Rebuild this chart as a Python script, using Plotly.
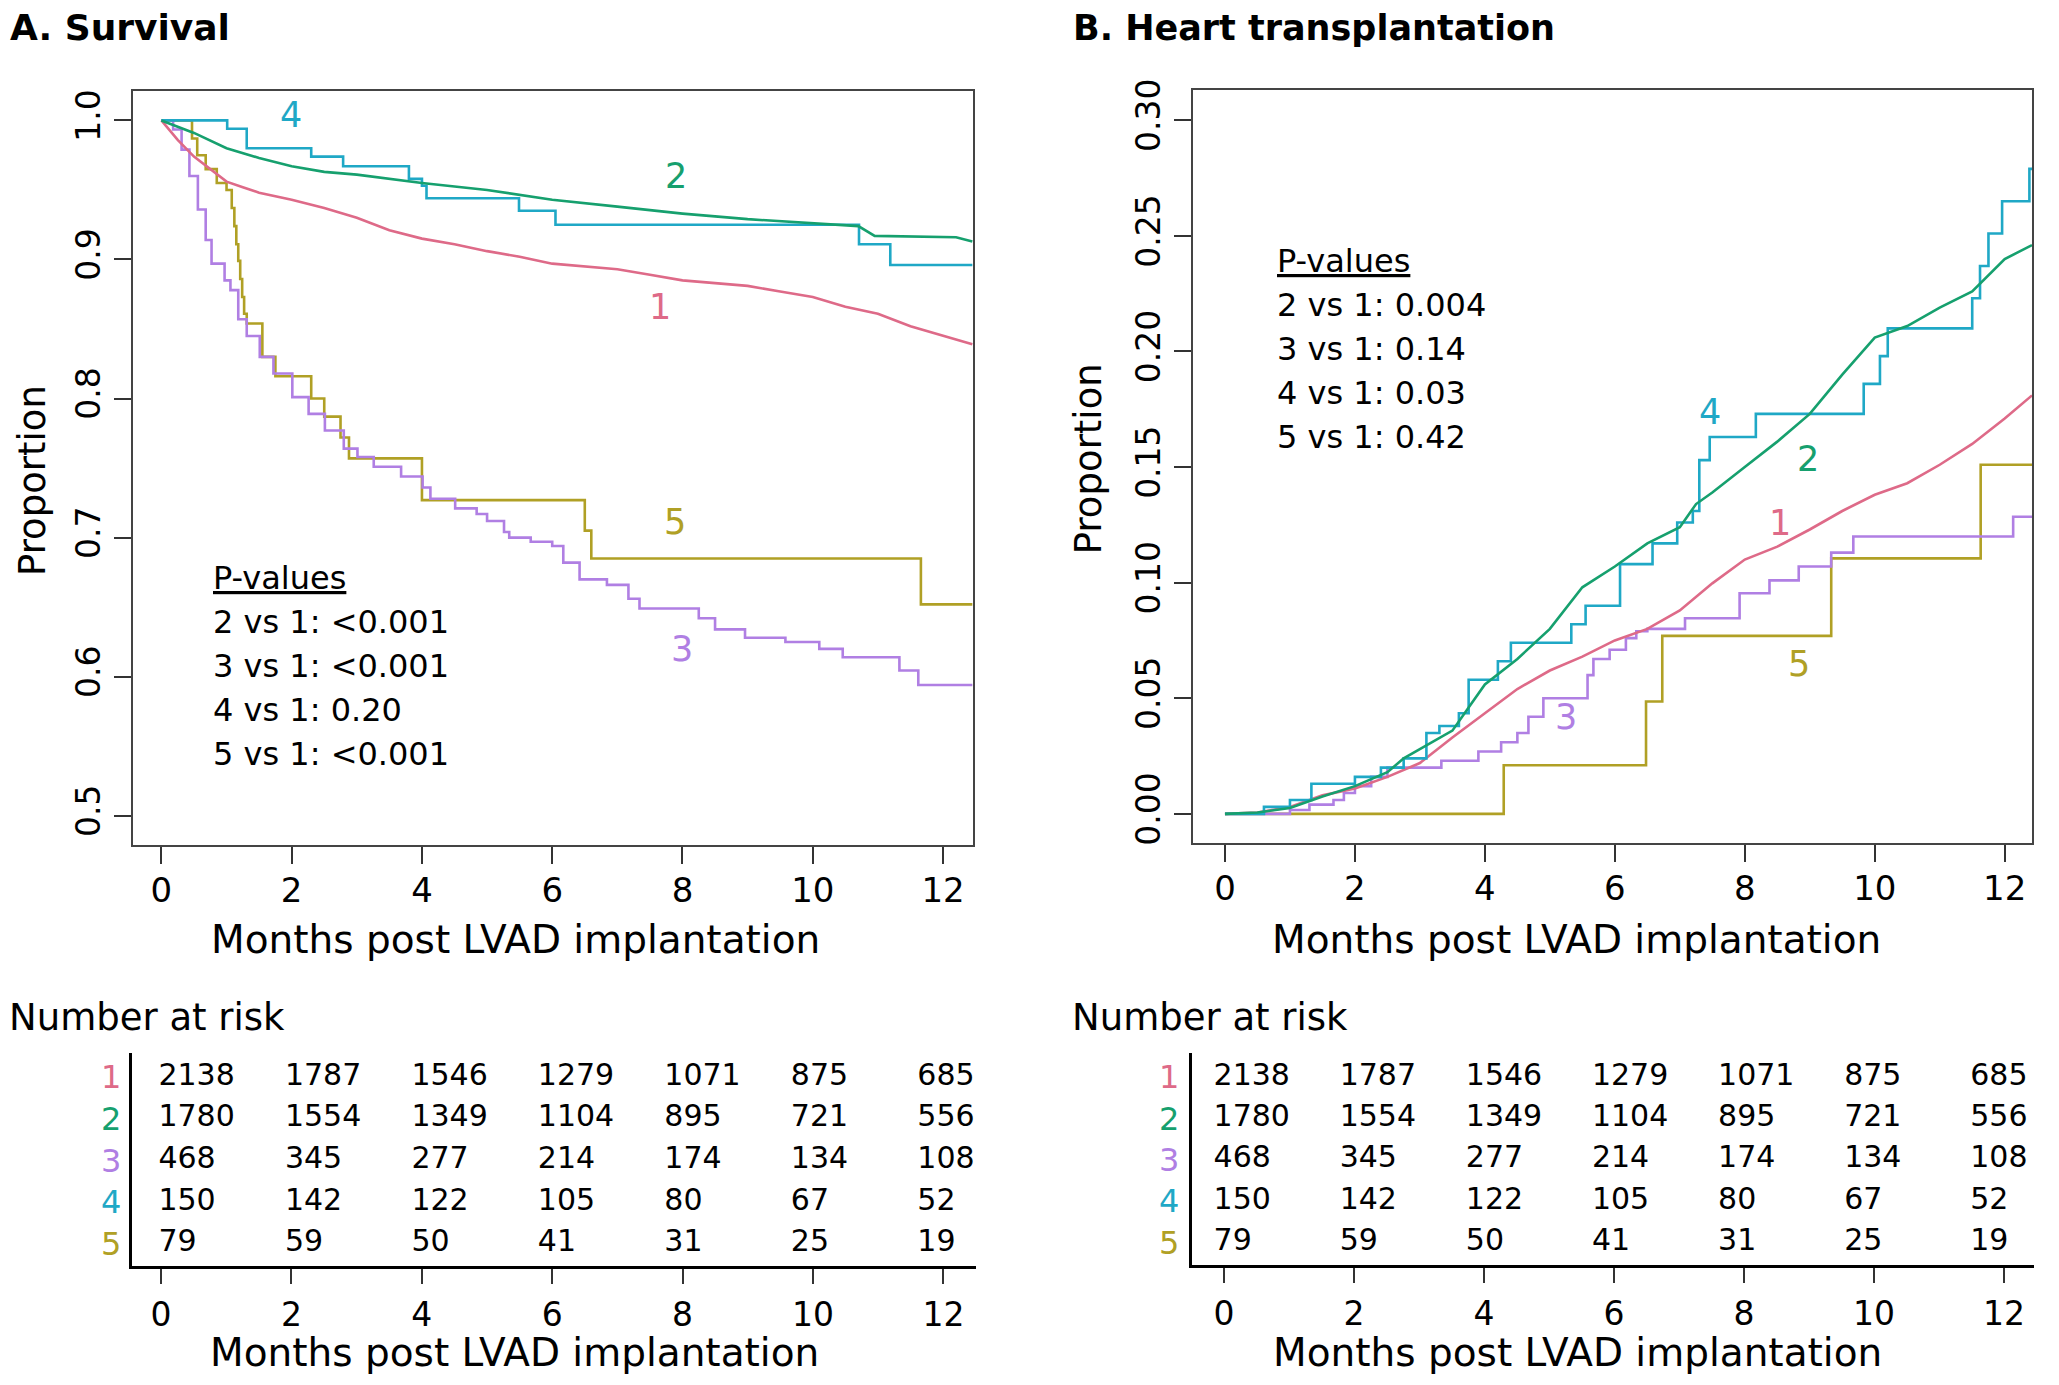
import plotly.graph_objects as go

W, H = 2059, 1385
FONT = "DejaVu Sans"
PAGE_MARGIN = 8  # default <body> margin of the written html page

# ---------------- data ----------------
group_labels = ["1", "2", "3", "4", "5"]
group_colors = ["#DE6A88", "#16A06E", "#B07FE3", "#1FA8C6", "#B0A025"]

# Panel A: survival (proportion alive)
survA1_t = [0, 0.25, 0.5, 0.75, 1, 1.25, 1.5, 2, 2.5, 3, 3.5, 4, 4.5, 5, 5.5, 6, 6.5, 7, 7.5, 8, 8.5, 9, 9.5, 10, 10.5, 11, 11.5, 12, 12.45]
survA1_p = [1, 0.986, 0.974, 0.965, 0.956, 0.952, 0.948, 0.943, 0.937, 0.930, 0.921, 0.915, 0.911, 0.906, 0.902, 0.897, 0.895, 0.893, 0.889, 0.885, 0.883, 0.881, 0.877, 0.873, 0.866, 0.861, 0.852, 0.845, 0.839]

survA2_t = [0, 0.5, 1, 1.5, 2, 2.5, 3, 3.5, 4, 5, 6, 7, 8, 9, 10, 10.7, 10.95, 12.2, 12.45]
survA2_p = [1, 0.991, 0.980, 0.973, 0.967, 0.963, 0.961, 0.958, 0.955, 0.950, 0.943, 0.938, 0.933, 0.929, 0.926, 0.924, 0.917, 0.916, 0.913]

survA3_t = [0, 0.18, 0.31, 0.43, 0.56, 0.68, 0.77, 0.97, 1.06, 1.18, 1.31, 1.51, 1.72, 2.01, 2.26, 2.51, 2.8, 3.01, 3.26, 3.68, 4.01, 4.13, 4.51, 4.84, 5.0, 5.26, 5.34, 5.67, 6.0, 6.17, 6.42, 6.84, 7.17, 7.34, 8.25, 8.5, 8.96, 9.58, 10.1, 10.46, 11.33, 11.62, 12.45]
survA3_p = [1, 0.9935, 0.979, 0.960, 0.936, 0.914, 0.897, 0.885, 0.878, 0.857, 0.845, 0.830, 0.818, 0.801, 0.789, 0.777, 0.764, 0.758, 0.751, 0.744, 0.736, 0.728, 0.721, 0.717, 0.712, 0.704, 0.700, 0.697, 0.694, 0.682, 0.670, 0.666, 0.656, 0.649, 0.642, 0.634, 0.628, 0.625, 0.620, 0.614, 0.6045, 0.594, 0.594]

survA4_t = [0, 1.01, 1.31, 2.3, 2.79, 3.8, 4.0, 4.07, 5.49, 6.05, 10.71, 11.19, 12.45]
survA4_p = [1, 0.994, 0.980, 0.974, 0.967, 0.958, 0.953, 0.944, 0.935, 0.925, 0.911, 0.896, 0.896]

survA5_t = [0, 0.47, 0.55, 0.68, 0.85, 1.0, 1.08, 1.12, 1.15, 1.18, 1.21, 1.24, 1.27, 1.31, 1.55, 1.75, 2.3, 2.5, 2.75, 2.88, 4.0, 6.5, 6.6, 11.66, 12.45]
survA5_p = [1, 0.987, 0.975, 0.965, 0.955, 0.950, 0.937, 0.924, 0.911, 0.899, 0.886, 0.873, 0.861, 0.854, 0.830, 0.816, 0.800, 0.787, 0.772, 0.757, 0.727, 0.705, 0.685, 0.652, 0.652]

# Panel B: cumulative proportion transplanted
txB1_t = [0, 0.5, 1, 1.5, 2, 2.5, 3, 3.5, 4, 4.5, 5, 5.5, 6, 6.5, 7, 7.5, 8, 8.5, 9, 9.5, 10, 10.5, 11, 11.5, 12, 12.42]
txB1_p = [0, 0.0006, 0.003, 0.008, 0.011, 0.016, 0.022, 0.033, 0.0435, 0.054, 0.062, 0.068, 0.075, 0.080, 0.088, 0.0997, 0.110, 0.1156, 0.123, 0.131, 0.138, 0.143, 0.151, 0.160, 0.171, 0.181]

txB2_t = [0, 0.5, 1, 1.5, 2, 2.5, 2.75, 3, 3.5, 3.75, 4, 4.5, 5, 5.5, 6, 6.5, 7, 7.25, 7.5, 8, 8.5, 9, 9.5, 10, 10.5, 11, 11.5, 12, 12.42]
txB2_p = [0, 0.0006, 0.0025, 0.0075, 0.012, 0.018, 0.024, 0.028, 0.036, 0.046, 0.056, 0.067, 0.080, 0.098, 0.107, 0.117, 0.124, 0.134, 0.139, 0.150, 0.161, 0.173, 0.190, 0.206, 0.211, 0.219, 0.226, 0.240, 0.246]

txB3_t = [0, 1.0, 1.3, 1.67, 1.83, 2.0, 2.25, 2.5, 3.33, 3.9, 4.25, 4.5, 4.67, 4.9, 5.58, 5.67, 5.92, 6.17, 6.33, 6.5, 7.08, 7.92, 8.38, 8.83, 9.33, 9.67, 12.13, 12.42]
txB3_p = [0, 0.0017, 0.004, 0.006, 0.009, 0.012, 0.016, 0.020, 0.023, 0.027, 0.031, 0.035, 0.042, 0.050, 0.060, 0.067, 0.071, 0.076, 0.079, 0.080, 0.0846, 0.0954, 0.101, 0.107, 0.113, 0.120, 0.1285, 0.1285]

txB4_t = [0, 0.6, 1.0, 1.33, 2.0, 2.4, 2.75, 3.1, 3.3, 3.6, 3.75, 4.2, 4.4, 5.33, 5.55, 6.08, 6.58, 6.96, 7.2, 7.3, 7.46, 8.17, 9.83, 10.08, 10.2, 11.5, 11.62, 11.75, 11.96, 12.38, 12.42]
txB4_p = [0, 0.003, 0.006, 0.013, 0.016, 0.020, 0.024, 0.035, 0.038, 0.0435, 0.058, 0.066, 0.074, 0.082, 0.090, 0.108, 0.117, 0.126, 0.131, 0.153, 0.163, 0.173, 0.186, 0.198, 0.210, 0.223, 0.237, 0.251, 0.265, 0.279, 0.279]

txB5_t = [0, 4.29, 6.48, 6.73, 9.33, 11.63, 12.42]
txB5_p = [0, 0.021, 0.0486, 0.077, 0.1105, 0.151, 0.151]

# Number at risk
risk_months = [0, 2, 4, 6, 8, 10, 12]
risk1 = [2138, 1787, 1546, 1279, 1071, 875, 685]
risk2 = [1780, 1554, 1349, 1104, 895, 721, 556]
risk3 = [468, 345, 277, 214, 174, 134, 108]
risk4 = [150, 142, 122, 105, 80, 67, 52]
risk5 = [79, 59, 50, 41, 31, 25, 19]

pvalsA = ["2 vs 1: <0.001", "3 vs 1: <0.001", "4 vs 1: 0.20", "5 vs 1: <0.001"]
pvalsB = ["2 vs 1: 0.004", "3 vs 1: 0.14", "4 vs 1: 0.03", "5 vs 1: 0.42"]

x_ticks = [0, 2, 4, 6, 8, 10, 12]
yA_ticks = [0.5, 0.6, 0.7, 0.8, 0.9, 1.0]
yA_ticktext = ["0.5", "0.6", "0.7", "0.8", "0.9", "1.0"]
yB_ticks = [0.0, 0.05, 0.10, 0.15, 0.20, 0.25, 0.30]
yB_ticktext = ["0.00", "0.05", "0.10", "0.15", "0.20", "0.25", "0.30"]

x_title = "Months post LVAD implantation"

# ---------------- figure ----------------
def px(x):
    return (x - PAGE_MARGIN) / W

def py(y):
    return 1 - (y - PAGE_MARGIN) / H

fig = go.Figure()

survA = [(survA1_t, survA1_p, "linear"), (survA2_t, survA2_p, "linear"),
         (survA3_t, survA3_p, "hv"), (survA4_t, survA4_p, "hv"), (survA5_t, survA5_p, "hv")]
txB = [(txB1_t, txB1_p, "linear"), (txB2_t, txB2_p, "linear"),
       (txB3_t, txB3_p, "hv"), (txB4_t, txB4_p, "hv"), (txB5_t, txB5_p, "hv")]

order = [4, 2, 0, 3, 1]
for i in order:
    t, p, shp = survA[i]
    fig.add_trace(go.Scatter(x=t, y=p, mode="lines", line=dict(color=group_colors[i], width=2.6, shape=shp),
                             xaxis="x", yaxis="y", showlegend=False, hoverinfo="skip"))
for i in order:
    t, p, shp = txB[i]
    fig.add_trace(go.Scatter(x=t, y=p, mode="lines", line=dict(color=group_colors[i], width=2.6, shape=shp),
                             xaxis="x2", yaxis="y2", showlegend=False, hoverinfo="skip"))

risks = [risk1, risk2, risk3, risk4, risk5]
for xa, ya, off in (("x3", "y3", -0.04), ("x4", "y4", -0.16)):
    for i, r in enumerate(risks):
        fig.add_trace(go.Scatter(x=[0.97 * m + off for m in risk_months], y=[i + 1] * len(risk_months),
                                 mode="text", text=[str(v) for v in r], textposition="middle right",
                                 textfont=dict(family=FONT, size=30, color="black"),
                                 xaxis=xa, yaxis=ya, showlegend=False, hoverinfo="skip", cliponaxis=False))

axis_common = dict(showgrid=False, zeroline=False, ticks="outside", ticklen=17, tickwidth=1.5,
                   tickcolor="#333", color="black")

main_x = dict(axis_common, tickvals=x_ticks, showline=True, mirror=True, linecolor="#444", linewidth=1.6,
              tickfont=dict(family=FONT, size=34, color="black"), ticklabelstandoff=-3)
main_y = dict(axis_common, showline=True, mirror=True, linecolor="#444", linewidth=1.6,
              tickangle=-90, tickfont=dict(family=FONT, size=33, color="black"), ticklabelstandoff=1)
tab_x = dict(axis_common, tickvals=x_ticks, showline=True, mirror=False, linecolor="black", linewidth=2.5,
             ticklen=15, tickfont=dict(family=FONT, size=33, color="black"), ticklabelstandoff=2)
tab_y = dict(showgrid=False, zeroline=False, showline=True, linecolor="black", linewidth=2.5,
             showticklabels=False, ticks="")

fig.update_layout(
    width=W, height=H,
    margin=dict(l=0, r=0, t=0, b=0),
    paper_bgcolor="white", plot_bgcolor="white",
    showlegend=False,
    xaxis=dict(main_x, domain=[px(133), px(973)], range=[-0.436, 12.46], anchor="y"),
    yaxis=dict(main_y, domain=[py(842), py(80)], range=[0.479, 1.021], tickvals=yA_ticks,
               ticktext=yA_ticktext, anchor="x"),
    xaxis2=dict(main_x, domain=[px(1193), px(2032)], range=[-0.492, 12.42], anchor="y2"),
    yaxis2=dict(main_y, domain=[py(840), py(79)], range=[-0.0126, 0.313], tickvals=yB_ticks,
                ticktext=yB_ticktext, anchor="x2"),
    xaxis3=dict(tab_x, domain=[px(132), px(976)], range=[-0.445, 12.50], anchor="y3"),
    yaxis3=dict(tab_y, domain=[py(1268), py(1052)], range=[5.548, 0.405], anchor="x3"),
    xaxis4=dict(tab_x, domain=[px(1192), px(2034)], range=[-0.492, 12.46], anchor="y4"),
    yaxis4=dict(tab_y, domain=[py(1267), py(1052)], range=[5.548, 0.405], anchor="x4"),
)

ann = []

def text(x, y, s, size, color="black", xanchor="center", yanchor="middle", bold=False, angle=0,
         xref="paper", yref="paper"):
    ann.append(dict(x=x, y=y, xref=xref, yref=yref, text=("<b>%s</b>" % s) if bold else s,
                    showarrow=False, xanchor=xanchor, yanchor=yanchor, textangle=angle,
                    font=dict(family=FONT, size=size, color=color)))

# panel titles
text(px(8), py(16), "A. Survival", 36, xanchor="left", bold=True)
text(px(1071), py(16), "B. Heart transplantation", 35, xanchor="left", bold=True)

# axis titles
text(px(33), py(474), "Proportion", 37, angle=-90)
text(px(1088), py(452), "Proportion", 37, angle=-90)
text(px(515), py(938), x_title, 39)
text(px(1576), py(938), x_title, 39)
text(px(514), py(1355), x_title, 39)
text(px(1577), py(1355), x_title, 39)

# number at risk headers
text(px(7), py(1016), "Number at risk", 37, xanchor="left")
text(px(1070), py(1016), "Number at risk", 37, xanchor="left")

# row labels of the risk tables
for i, lab in enumerate(group_labels):
    ann.append(dict(x=px(111), y=i + 1, xref="paper", yref="y3", text=lab, showarrow=False,
                    xanchor="center", yanchor="middle",
                    font=dict(family=FONT, size=32, color=group_colors[i])))
    ann.append(dict(x=px(1169), y=i + 1, xref="paper", yref="y4", text=lab, showarrow=False,
                    xanchor="center", yanchor="middle",
                    font=dict(family=FONT, size=32, color=group_colors[i])))

# P-values blocks
def pblock(x0, y0, lines):
    text(px(x0), py(y0), '<span style="text-decoration:underline">P-values</span>', 32, xanchor="left")
    for k, s in enumerate(lines):
        text(px(x0), py(y0 + 44.5 * (k + 1)), s, 32, xanchor="left")

pblock(211, 572, pvalsA)
pblock(1275, 252, pvalsB)

# curve labels
labA = [(7.65, 0.866), (7.9, 0.960), (8.0, 0.620), (1.99, 1.004), (7.88, 0.7115)]
labB = [(8.54, 0.1256), (8.98, 0.1535), (5.25, 0.042), (7.46, 0.174), (8.83, 0.065)]
for i, lab in enumerate(group_labels):
    text(labA[i][0], labA[i][1], lab, 35, color=group_colors[i], xref="x", yref="y")
    text(labB[i][0], labB[i][1], lab, 35, color=group_colors[i], xref="x2", yref="y2")

fig.update_layout(annotations=ann)
fig.write_html("out.html")
